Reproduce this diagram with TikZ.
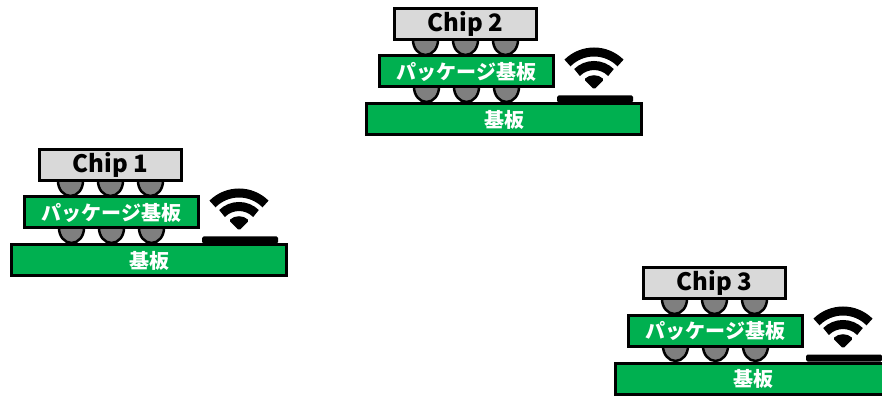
\documentclass[tikz,border=0pt]{standalone}
\usepackage{fontspec}
\newfontfamily\jpfont{Noto Sans CJK JP}
\usepackage{tikz}
\usetikzlibrary{positioning, backgrounds}

\definecolor{boardgreen}{HTML}{00B050}
\definecolor{chipgray}{HTML}{D9D9D9}
\definecolor{bumpgray}{HTML}{7F7F7F}

\begin{document}
\begin{tikzpicture}[
  x=1pt, y=1pt,
  slab/.style={rectangle, draw=black, line width=3pt, fill=boardgreen, minimum height=31pt, inner sep=0pt, outer sep=0pt, text=white, font=\jpfont\bfseries\fontsize{20}{24}\selectfont},
  chipbox/.style={slab, fill=chipgray, text=black, font=\jpfont\bfseries\fontsize{24}{28}\selectfont},
  bump/.style={draw=black, line width=2.5pt, fill=bumpgray},
  padbox/.style={rectangle, fill=black, rounded corners=1.5pt, minimum width=76pt, minimum height=7pt, inner sep=0pt, outer sep=0pt},
  wave/.style={line width=9pt},
]
\useasboundingbox (0,0) rectangle (882,396);
\clip (0,0) rectangle (882,396);

\foreach \i/\bx/\by in {1/149/135.5, 2/504/276.5, 3/753/17.5}{
  % === Board, package substrate, chip ===
  \node[slab, minimum width=275pt] (board\i) at (\bx,\by) {基板};
  \node[slab, minimum width=174pt, above right=17pt and 13pt of board\i.north west] (pkg\i) {パッケージ基板};
  \node[chipbox, minimum width=142pt, above right=16pt and 15pt of pkg\i.north west] (chip\i) {Chip \i};

  % === Antenna pad + wireless symbol ===
  \node[padbox, above left=1.5pt and 8.5pt of board\i.north east] (pad\i) {};
  \coordinate (wifi\i) at ([shift={(-1pt,6pt)}]pad\i.north);
  \draw[wave] ([shift={(45:37.5)}]wifi\i) arc[start angle=45, end angle=135, radius=37.5];
  \draw[wave] ([shift={(45:24)}]wifi\i) arc[start angle=45, end angle=135, radius=24];
  \fill[rounded corners=1.5pt] (wifi\i) -- ([shift={(45:14)}]wifi\i) arc[start angle=45, end angle=135, radius=14] -- cycle;

  % === Bumps, kept behind the boxes ===
  \begin{scope}[on background layer]
    \foreach \dx in {-40,0,40}{
      \draw[bump] ([xshift=\dx pt]chip\i.south) ellipse[x radius=12.5, y radius=15];
      \draw[bump] ([xshift=\dx pt]pkg\i.south) ellipse[x radius=12.5, y radius=15];
    }
  \end{scope}
}
\end{tikzpicture}
\end{document}
